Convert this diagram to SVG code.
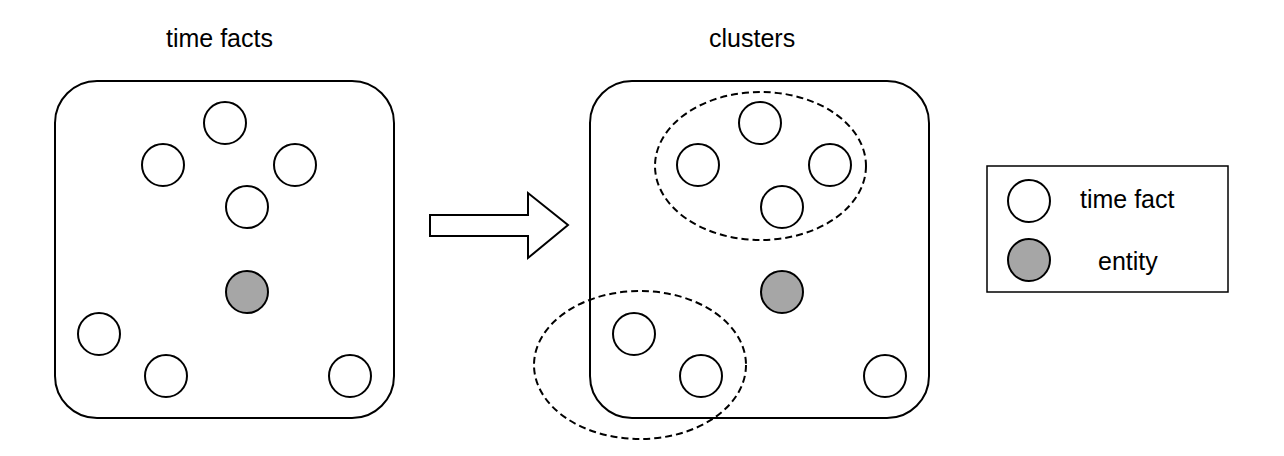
<svg xmlns="http://www.w3.org/2000/svg" width="1284" height="456" viewBox="0 0 1284 456">
<style>
.box{fill:#fff;stroke:#000;stroke-width:2}
.tf{fill:#fff;stroke:#000;stroke-width:2}
.en{fill:#a6a6a6;stroke:#000;stroke-width:2}
.cl{fill:none;stroke:#000;stroke-width:2;stroke-dasharray:7 4}
.lbl{font-family:"Liberation Sans",Arial,sans-serif;font-size:25px;fill:#000}
</style>
<rect width="1284" height="456" fill="#fff"/>
<g id="left-panel">
<text class="lbl" x="166" y="47">time facts</text>
<rect class="box" x="55" y="81" width="339" height="337" rx="42"/>
<circle class="tf" cx="225" cy="123" r="21"/>
<circle class="tf" cx="163" cy="165" r="21"/>
<circle class="tf" cx="295" cy="165" r="21"/>
<circle class="tf" cx="247" cy="207" r="21"/>
<circle class="en" cx="247" cy="292" r="21"/>
<circle class="tf" cx="99" cy="334" r="21"/>
<circle class="tf" cx="166" cy="376" r="21"/>
<circle class="tf" cx="350" cy="376" r="21"/>
</g>
<g id="connectors">
<polygon points="430,215 528,215 528,193 568,225 528,258 528,236 430,236" fill="#fff" stroke="#000" stroke-width="2"/>
</g>
<g id="right-panel">
<text class="lbl" x="709" y="47">clusters</text>
<rect class="box" x="590" y="81" width="339" height="337" rx="42"/>
<circle class="tf" cx="760" cy="123" r="21"/>
<circle class="tf" cx="698" cy="165" r="21"/>
<circle class="tf" cx="830" cy="165" r="21"/>
<circle class="tf" cx="782" cy="207" r="21"/>
<circle class="en" cx="782" cy="292" r="21"/>
<circle class="tf" cx="634" cy="334" r="21"/>
<circle class="tf" cx="701" cy="376" r="21"/>
<circle class="tf" cx="885" cy="376" r="21"/>
<ellipse id="cluster-top" class="cl" cx="760.5" cy="166" rx="105.5" ry="74"/>
<ellipse id="cluster-bottom" class="cl" cx="640" cy="365" rx="106" ry="74"/>
</g>
<g id="legend">
<rect x="987" y="166" width="241" height="126" fill="#fff" stroke="#000" stroke-width="1.5"/>
<circle class="tf" cx="1029" cy="201" r="21"/>
<circle class="en" cx="1029" cy="260" r="21"/>
<text class="lbl" x="1080" y="208">time fact</text>
<text class="lbl" x="1098" y="270">entity</text>
</g>
</svg>
